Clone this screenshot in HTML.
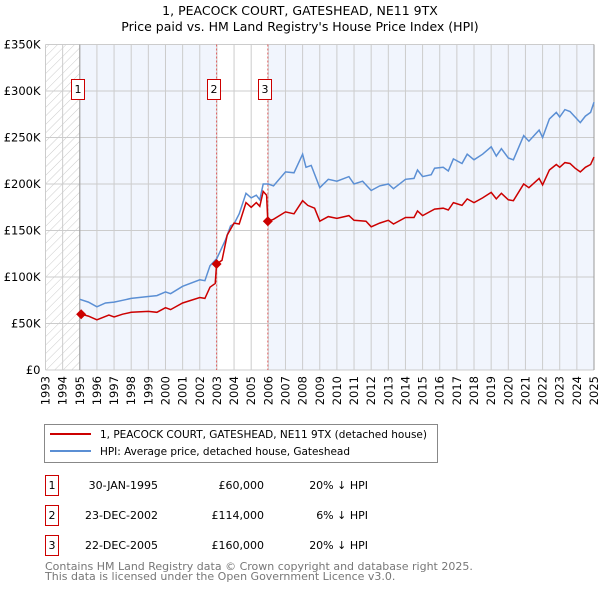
<!DOCTYPE html>
<html><head><meta charset="utf-8"><style>
body{margin:0;background:#fff;width:600px;height:590px;overflow:hidden;font-family:"DejaVu Sans",sans-serif}
svg text{font-family:"DejaVu Sans",sans-serif}
</style></head><body>
<svg id="c" width="600" height="590" xmlns="http://www.w3.org/2000/svg">
<defs><pattern id="hatch" width="6" height="6" patternUnits="userSpaceOnUse" patternTransform="rotate(45)"><line x1="0" y1="0" x2="0" y2="6" stroke="#ccc" stroke-width="1"/></pattern></defs>
<text x="300" y="15" text-anchor="middle" font-size="12.5">1, PEACOCK COURT, GATESHEAD, NE11 9TX</text>
<text x="300" y="31" text-anchor="middle" font-size="12.5">Price paid vs. HM Land Registry's House Price Index (HPI)</text>
<g id="plot"></g>
<rect x="44.5" y="424.5" width="393" height="38" fill="#fff" stroke="#888"/>
<line x1="50" y1="434" x2="91" y2="434" stroke="#cc0000" stroke-width="2"/>
<text x="100" y="438" font-size="10.5" textLength="327">1, PEACOCK COURT, GATESHEAD, NE11 9TX (detached house)</text>
<line x1="50" y1="451" x2="91" y2="451" stroke="#5b8fd4" stroke-width="2"/>
<text x="100" y="455" font-size="10.5" textLength="250">HPI: Average price, detached house, Gateshead</text>
<g font-size="11">
<rect x="45.5" y="475.5" width="13" height="20" fill="#fff" stroke="#c00"/><text x="52" y="489" text-anchor="middle">1</text>
<text x="158" y="489" text-anchor="end">30-JAN-1995</text><text x="264" y="489" text-anchor="end">£60,000</text><text x="368" y="489" text-anchor="end">20% ↓ HPI</text>
<rect x="45.5" y="505.5" width="13" height="20" fill="#fff" stroke="#c00"/><text x="52" y="519" text-anchor="middle">2</text>
<text x="158" y="519" text-anchor="end">23-DEC-2002</text><text x="264" y="519" text-anchor="end">£114,000</text><text x="368" y="519" text-anchor="end">6% ↓ HPI</text>
<rect x="45.5" y="535.5" width="13" height="20" fill="#fff" stroke="#c00"/><text x="52" y="549" text-anchor="middle">3</text>
<text x="158" y="549" text-anchor="end">22-DEC-2005</text><text x="264" y="549" text-anchor="end">£160,000</text><text x="368" y="549" text-anchor="end">20% ↓ HPI</text>
</g>
<text x="45" y="570" font-size="11" fill="#777">Contains HM Land Registry data © Crown copyright and database right 2025.</text>
<text x="45" y="580" font-size="11" fill="#777">This data is licensed under the Open Government Licence v3.0.</text>
</svg>
<script>
const hpiT=[1995.0,1995.5,1996.0,1996.5,1997.0,1997.5,1998.0,1999.0,1999.5,2000.0,2000.3,2001.0,2002.0,2002.3,2002.6,2003.0,2003.5,2003.8,2004.0,2004.3,2004.7,2005.0,2005.3,2005.5,2005.7,2006.0,2006.3,2007.0,2007.5,2008.0,2008.2,2008.5,2009.0,2009.5,2010.0,2010.7,2011.0,2011.5,2012.0,2012.5,2013.0,2013.3,2014.0,2014.5,2014.7,2015.0,2015.5,2015.7,2016.2,2016.5,2016.8,2017.3,2017.6,2018.0,2018.5,2019.0,2019.3,2019.6,2020.0,2020.3,2020.9,2021.2,2021.5,2021.8,2022.0,2022.4,2022.8,2023.0,2023.3,2023.6,2023.9,2024.2,2024.5,2024.8,2025.0];
const hpiV=[76,73,68,72,73,75,77,79,80,84,82,90,97,96,112,120,140,155,157,168,190,185,188,183,200,200,198,213,212,232,218,220,196,205,203,208,200,203,193,198,200,195,205,206,215,208,210,217,218,214,227,222,232,226,232,240,230,238,228,226,252,246,252,258,250,270,277,272,280,278,272,266,273,277,288];
const priceT=[1995.08,1995.5,1996.0,1996.7,1997.0,1997.5,1998.0,1999.0,1999.5,2000.0,2000.3,2001.0,2002.0,2002.3,2002.6,2002.9,2002.98,2003.3,2003.6,2004.0,2004.3,2004.7,2005.0,2005.3,2005.5,2005.7,2005.9,2005.97,2006.3,2007.0,2007.5,2008.0,2008.3,2008.7,2009.0,2009.5,2010.0,2010.7,2011.0,2011.7,2012.0,2012.5,2013.0,2013.3,2014.0,2014.5,2014.7,2015.0,2015.7,2016.2,2016.5,2016.8,2017.3,2017.6,2018.0,2018.5,2019.0,2019.3,2019.6,2020.0,2020.3,2020.9,2021.2,2021.5,2021.8,2022.0,2022.4,2022.8,2023.0,2023.3,2023.6,2023.9,2024.2,2024.5,2024.8,2025.0];
const priceV=[60,58,54,59,57,60,62,63,62,67,65,72,78,77,89,93,114,118,145,158,157,180,175,180,176,192,188,160,162,170,168,182,177,174,160,165,163,166,161,160,154,158,161,157,164,164,171,166,173,174,172,180,177,184,180,185,191,184,190,183,182,200,196,201,206,199,215,221,218,223,222,217,213,218,221,229];
const saleT=[1995.08,2002.98,2005.97];
const saleV=[60,114,160];
const saleLabels=["1","2","3"];
const yTicks=[0,50,100,150,200,250,300,350];
const yTickLabels=["£0","£50K","£100K","£150K","£200K","£250K","£300K","£350K"];
const xYears=[1993,1994,1995,1996,1997,1998,1999,2000,2001,2002,2003,2004,2005,2006,2007,2008,2009,2010,2011,2012,2013,2014,2015,2016,2017,2018,2019,2020,2021,2022,2023,2024,2025];

const NS="http://www.w3.org/2000/svg";
const X0=45.5,X1=594,Y0=370,Y1=44.5;
const xs=t=>X0+(t-1993)/(2025-1993)*(X1-X0);
const ys=v=>Y0-v/350*(Y0-Y1);
const g=document.getElementById('plot');
function mk(tag,attrs,parent){const e=document.createElementNS(NS,tag);for(const k in attrs)e.setAttribute(k,attrs[k]);(parent||g).appendChild(e);return e;}
let e;
e=mk('rect',{x:X0,y:Y1,width:X1-X0,height:Y0-Y1,fill:'#fff'});


e=mk('rect',{x:xs(1995),y:Y1,width:xs(saleT[1])-xs(1995),height:Y0-Y1,fill:'#f1f5fd'});


e=mk('rect',{x:xs(saleT[2]),y:Y1,width:X1-xs(saleT[2]),height:Y0-Y1,fill:'#f1f5fd'});


e=mk('rect',{x:X0,y:Y1,width:xs(1995)-X0,height:Y0-Y1,fill:'url(#hatch)'});


xYears.forEach(yr=>{
 e=mk('line',{x1:xs(yr),x2:xs(yr),y1:Y1,y2:Y0,stroke:'#ccc','stroke-width':1});
 
 
 e=mk('text',{x:0,y:0,'font-size':11.5,'text-anchor':'end',transform:`translate(${xs(yr)+4},${Y0+6}) rotate(-90)`});
 e.textContent=yr;
 
 
});
yTicks.forEach((v,i)=>{
 e=mk('line',{x1:X0,x2:X1,y1:ys(v),y2:ys(v),stroke:'#ccc','stroke-width':1});
 
 
 e=mk('text',{x:X0-5,y:ys(v)+4,'font-size':11.5,'text-anchor':'end'});
 e.textContent=yTickLabels[i];
 
 
});
e=mk('line',{x1:xs(1995),x2:xs(1995),y1:Y1,y2:Y0,stroke:'#999'});


[1,2].forEach(i=>{
 e=mk('line',{x1:xs(saleT[i]),x2:xs(saleT[i]),y1:Y1,y2:Y0,stroke:'#e06060','stroke-dasharray':'2,2'});
 
 
});
e=mk('line',{x1:X1,x2:X1,y1:Y1,y2:Y0,stroke:'#999'});


const pts=(T,V)=>T.map((t,i)=>xs(t).toFixed(1)+','+ys(V[i]).toFixed(1)).join(' ');
e=mk('polyline',{points:pts(hpiT,hpiV),fill:'none',stroke:'#5b8fd4','stroke-width':1.5});


e=mk('polyline',{points:pts(priceT,priceV),fill:'none',stroke:'#cc0000','stroke-width':1.5});


saleT.forEach((t,i)=>{
 const cx=xs(t),cy=ys(saleV[i]);
 e=mk('path',{d:`M${cx-5},${cy}L${cx},${cy-5}L${cx+5},${cy}L${cx},${cy+5}Z`,fill:'#cc0000'});
 
 
 const bx=Math.round(cx-10)+0.5;
 e=mk('rect',{x:bx,y:79.5,width:13,height:20,fill:'#fff',stroke:'#c00'});
 
 
 e=mk('text',{x:bx+6.5,y:93,'font-size':11,'text-anchor':'middle'});
 e.textContent=saleLabels[i];
 
 
});
</script>
</body></html>
